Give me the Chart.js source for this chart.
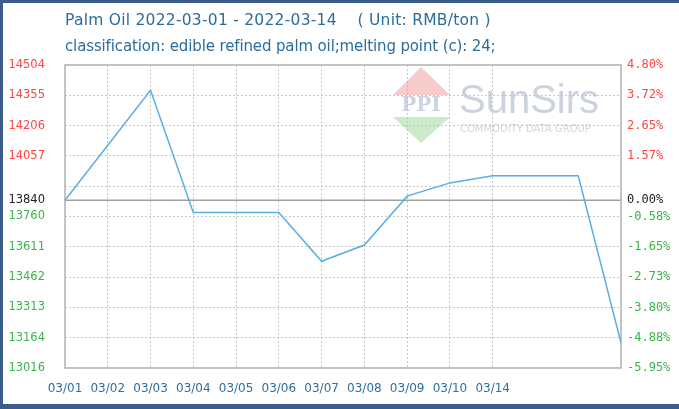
<!DOCTYPE html>
<html>
<head>
<meta charset="utf-8">
<script src="https://cdn.jsdelivr.net/npm/chart.js@4/dist/chart.umd.min.js"></script>
<style>
  html, body { margin: 0; padding: 0; background: #fff; }
  #wrap { position: relative; width: 679px; height: 409px; overflow: hidden; }
  #wrap canvas { position: absolute; left: 0; top: 0; }
  .ttl { position: absolute; left: 65px; font-family: "DejaVu Sans", sans-serif; color: #2b6c9c; white-space: pre; }
  #t1 { top: 11px; font-size: 15.5px; letter-spacing: 0.25px; }
  #t2 { top: 37px; font-size: 15px; letter-spacing: -0.13px; }
  .bar { position: absolute; background: #3c5d8a; }
</style>
</head>
<body>
<div id="wrap">
  <canvas id="lineChart" width="679" height="409"></canvas>
  <div class="ttl" id="t1">Palm Oil 2022-03-01 - 2022-03-14    ( Unit: RMB/ton )</div>
  <div class="ttl" id="t2">classification: edible refined palm oil;melting point (c): 24;</div>
  <div class="bar" style="left:0;top:0;width:679px;height:3px"></div>
  <div class="bar" style="left:0;top:0;width:3px;height:409px"></div>
  <div class="bar" style="left:0;bottom:0;width:679px;height:5px"></div>
</div>
<script>
// daily prices, RMB/ton
const dates = ['03/01', '03/02', '03/03', '03/04', '03/05', '03/06', '03/07',
  '03/08', '03/09', '03/10', '03/11', '03/12', '03/13', '03/14'];
const prices = [13840, 14110, 14380, 13780, 13780, 13780, 13540,
  13620, 13860, 13925, 13960, 13960, 13960, 13140];

// the source only labels the first 11 slots
const xTickLabels = ['03/01', '03/02', '03/03', '03/04', '03/05', '03/06',
  '03/07', '03/08', '03/09', '03/10', '03/14'];

const basePrice = 13840;
const yMin = 13016;
const yMax = 14504;
const priceTickLabels = ['13016', '13164', '13313', '13462', '13611', '13760',
  '', '14057', '14206', '14355', '14504'];
const pctTickLabels = ['-5.95%', '-4.88%', '-3.80%', '-2.73%', '-1.65%', '-0.58%',
  '', '1.57%', '2.65%', '3.72%', '4.80%'];
const baseLabels = ['13840', '0.00%'];

const step = (yMax - yMin) / (priceTickLabels.length - 1);

function buildTicks(scale) {
  var t = priceTickLabels.map(function (_, i) { return { value: yMin + i * step }; });
  t.push({ value: basePrice });
  t.sort(function (a, b) { return a.value - b.value; });
  scale.ticks = t;
}
function isBase(v) { return Math.abs(v - basePrice) < 0.01; }
function labelFor(v, list, baseText) {
  if (isBase(v)) return baseText;
  return list[Math.round((v - yMin) / step)];
}
function tickColor(ctx) {
  var v = ctx.tick ? ctx.tick.value : basePrice;
  if (isBase(v)) return '#222';
  return v > basePrice ? '#ff4444' : '#3cb34a';
}

const framePlugin = {
  id: 'frame',
  beforeDatasetsDraw(chart) {
    const { ctx, chartArea: a, scales } = chart;
    const ox = a.left, oy = a.top;
    ctx.save();
    // watermark logo
    ctx.globalAlpha = 0.55;
    ctx.fillStyle = '#f2a0a0';
    ctx.beginPath();
    ctx.moveTo(ox + 356, oy + 2); ctx.lineTo(ox + 385, oy + 30); ctx.lineTo(ox + 328, oy + 30);
    ctx.closePath(); ctx.fill();
    ctx.fillStyle = '#9fd89f';
    ctx.beginPath();
    ctx.moveTo(ox + 328, oy + 52); ctx.lineTo(ox + 385, oy + 52); ctx.lineTo(ox + 356, oy + 78);
    ctx.closePath(); ctx.fill();
    ctx.fillStyle = '#9fb0cc';
    ctx.font = 'bold 20px "DejaVu Serif"';
    ctx.textAlign = 'center';
    ctx.textBaseline = 'middle';
    ctx.fillText('PPI', ox + 356, oy + 41, 57);
    ctx.globalAlpha = 0.7;
    ctx.fillStyle = '#b3c0d0';
    ctx.font = '40px "Liberation Sans"';
    ctx.textAlign = 'left';
    ctx.textBaseline = 'alphabetic';
    ctx.fillText('SunSirs', ox + 394, oy + 48);
    ctx.fillStyle = '#c4c4c4';
    ctx.font = '10px "DejaVu Sans"';
    ctx.textBaseline = 'middle';
    ctx.fillText('COMMODITY DATA GROUP', ox + 395, oy + 64, 142);
    ctx.globalAlpha = 1;
    // zero line and frame
    const yb = scales.y.getPixelForValue(basePrice);
    ctx.strokeStyle = '#a0a0a0';
    ctx.lineWidth = 1.5;
    ctx.beginPath(); ctx.moveTo(a.left, yb); ctx.lineTo(a.right, yb); ctx.stroke();
    ctx.strokeStyle = '#b0b0b0';
    ctx.strokeRect(a.left, a.top, a.right - a.left, a.bottom - a.top);
    ctx.restore();
  }
};

var ctxL = document.getElementById('lineChart').getContext('2d');
var myLineChart = new Chart(ctxL, {
  type: 'line',
  data: {
    labels: dates,
    datasets: [{
      label: 'Palm Oil',
      data: prices,
      borderColor: '#5aaee3',
      backgroundColor: '#5aaee3',
      borderWidth: 1.5,
      pointRadius: 0,
      tension: 0,
      yAxisID: 'y'
    }]
  },
  options: {
    responsive: false,
    animation: false,
    layout: { padding: { top: 65, left: 0, right: 0, bottom: 0 } },
    plugins: { legend: { display: false }, tooltip: { enabled: false } },
    scales: {
      x: {
        offset: false,
        afterFit: function (s) { s.height = 41; },
        border: { display: false, dash: [2, 2] },
        grid: {
          drawTicks: false,
          color: function (c) { return c.index > 0 && c.index < xTickLabels.length ? '#c8c8c8' : 'transparent'; }
        },
        ticks: {
          autoSkip: false,
          maxRotation: 0,
          padding: 14,
          color: '#2e6f9e',
          font: { family: 'DejaVu Sans', size: 12 },
          callback: function (v, i) { return i < xTickLabels.length ? xTickLabels[i] : ''; }
        }
      },
      y: {
        position: 'left',
        min: yMin,
        max: yMax,
        afterBuildTicks: buildTicks,
        afterFit: function (s) { s.width = 65; },
        border: { display: false, dash: [2, 2] },
        grid: {
          drawTicks: false,
          color: function (c) {
            if (!c.tick) return '#c8c8c8';
            var v = c.tick.value;
            if (isBase(v) || v <= yMin + 0.01 || v >= yMax - 0.01) return 'transparent';
            return '#c8c8c8';
          }
        },
        ticks: {
          autoSkip: false,
          padding: 20,
          color: tickColor,
          font: { family: 'DejaVu Sans', size: 11.5 },
          callback: function (v) { return labelFor(v, priceTickLabels, baseLabels[0]); }
        }
      },
      y1: {
        position: 'right',
        min: yMin,
        max: yMax,
        afterBuildTicks: buildTicks,
        afterFit: function (s) { s.width = 58; },
        border: { display: false },
        grid: { drawOnChartArea: false, drawTicks: false },
        ticks: {
          autoSkip: false,
          padding: 6,
          color: tickColor,
          font: { family: 'DejaVu Sans Mono', size: 12 },
          callback: function (v) { return labelFor(v, pctTickLabels, baseLabels[1]); }
        }
      }
    }
  },
  plugins: [framePlugin]
});
</script>
</body>
</html>
